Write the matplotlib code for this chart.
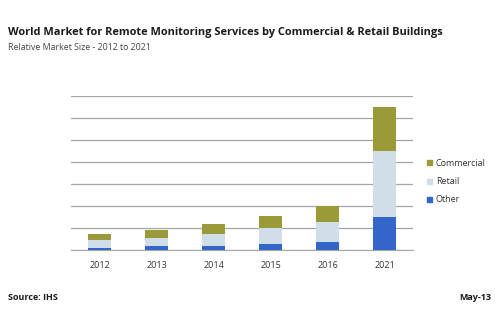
import matplotlib
matplotlib.use("Agg")
import matplotlib.pyplot as plt
import numpy as np

YEARS = ["2012", "2013", "2014", "2015", "2016", "2021"]
OTHER = [0.10, 0.18, 0.20, 0.29, 0.36, 1.50]
RETAIL = [0.35, 0.38, 0.54, 0.73, 0.93, 2.98]
COMMERCIAL = [0.29, 0.35, 0.43, 0.53, 0.69, 2.03]

C_OTHER = "#3465c8"
C_RETAIL = "#cfdee7"
C_COMM = "#9a9a38"

plt.rcParams["font.family"] = ["Open Sans", "DejaVu Sans"]

fig = plt.figure(figsize=(4.95, 3.3), dpi=100)
ax = fig.add_axes([71 / 495, 80 / 330, 342 / 495, 154 / 330])

x = np.arange(len(YEARS))
w = 0.4
other = np.array(OTHER)
retail = np.array(RETAIL)
comm = np.array(COMMERCIAL)
ax.bar(x, other, w, color=C_OTHER, zorder=3)
ax.bar(x, retail, w, bottom=other, color=C_RETAIL, zorder=3)
ax.bar(x, comm, w, bottom=other + retail, color=C_COMM, zorder=3)

ax.set_xlim(-0.5, len(YEARS) - 0.5)
ax.set_ylim(0, 7)
ax.set_yticks(np.arange(0, 8))
ax.yaxis.grid(True, color="#a6a6a6", lw=0.9, zorder=0)
ax.tick_params(axis="y", left=False, labelleft=False)
ax.tick_params(axis="x", length=0, labelsize=6.5, pad=8, colors="#333333")
ax.set_xticks(x)
ax.set_xticklabels(YEARS)
for s in ["top", "right", "left"]:
    ax.spines[s].set_visible(False)
ax.spines["bottom"].set_color("#a6a6a6")
ax.set_axisbelow(True)

# legend
for i, (lab, col) in enumerate([("Commercial", C_COMM), ("Retail", C_RETAIL), ("Other", C_OTHER)]):
    y = 1 - (163 + 18 * i) / 330
    fig.patches.append(plt.Rectangle((427 / 495, y - 2.5 / 330), 5 / 495, 5 / 330,
                                     transform=fig.transFigure, color=col, figure=fig))
    fig.text(436 / 495, y, lab, fontsize=6.5, va="center", ha="left", color="#333333")

fig.text(8 / 495, 1 - 33 / 330, "World Market for Remote Monitoring Services by Commercial & Retail Buildings",
         fontsize=7.95, fontweight="bold", va="center", ha="left", color="#1a1a1a")
fig.text(8 / 495, 1 - 48 / 330, "Relative Market Size - 2012 to 2021",
         fontsize=6.3, va="center", ha="left", color="#444444")
fig.text(8 / 495, 1 - 298 / 330, "Source: IHS", fontsize=6.5, fontweight="bold",
         va="center", ha="left", color="#1a1a1a")
fig.text(491 / 495, 1 - 298 / 330, "May-13", fontsize=6.5, fontweight="bold",
         va="center", ha="right", color="#1a1a1a")

fig.savefig("out.png", dpi=100, facecolor="white")
